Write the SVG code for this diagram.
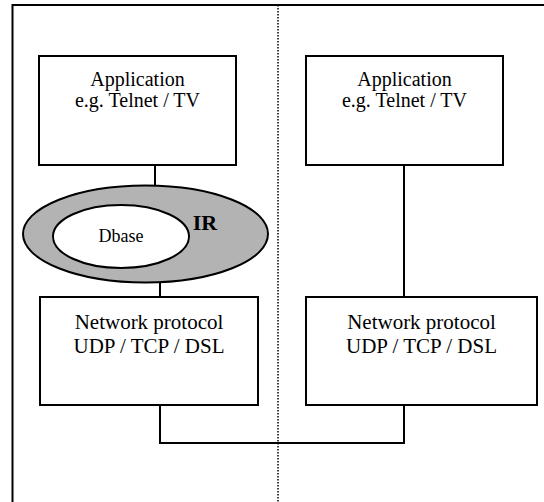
<svg xmlns="http://www.w3.org/2000/svg" width="544" height="502" viewBox="0 0 544 502">
<style>
.box{fill:#fff;stroke:#000;stroke-width:2}
.ln{fill:none;stroke:#000;stroke-width:2}
.t{font-family:"Liberation Serif","Times New Roman",serif;fill:#000;text-anchor:middle}
.big{font-size:20px}
.net{font-size:21px}
</style>
<rect width="544" height="502" fill="#fff"/>
<g id="frame">
<path class="ln" d="M12.5,502 V5 H544"/>
<line x1="278" y1="5" x2="278" y2="502" stroke="#000" stroke-width="1.5" stroke-dasharray="1.5,1.5"/>
</g>
<g id="connectors">
<line class="ln" x1="155" y1="165" x2="155" y2="186"/>
<line class="ln" x1="160" y1="282" x2="160" y2="297"/>
<line class="ln" x1="404" y1="165" x2="404" y2="297"/>
<path class="ln" d="M160,405 V443 H404 V405"/>
</g>
<g id="app-left">
<rect class="box" x="39" y="56" width="197" height="109"/>
<text class="t big" x="137.5" y="86">Application</text>
<text class="t big" x="137.5" y="107">e.g. Telnet / TV</text>
</g>
<g id="app-right">
<rect class="box" x="306" y="56" width="197" height="109"/>
<text class="t big" x="404.5" y="86">Application</text>
<text class="t big" x="404.5" y="107">e.g. Telnet / TV</text>
</g>
<g id="ir">
<ellipse cx="145.5" cy="234" rx="122.5" ry="48.5" fill="#b3b3b3" stroke="#000" stroke-width="2"/>
<text x="205" y="230" font-family="Liberation Serif,'Times New Roman',serif" font-size="22" font-weight="bold" text-anchor="middle">IR</text>
</g>
<g id="dbase">
<ellipse cx="121" cy="236.5" rx="68" ry="31.5" fill="#fff" stroke="#000" stroke-width="2"/>
<text class="t" x="121" y="242" font-size="18">Dbase</text>
</g>
<g id="net-left">
<rect class="box" x="40" y="297" width="218" height="108"/>
<text class="t net" x="149" y="329">Network protocol</text>
<text class="t net" x="149" y="353">UDP / TCP / DSL</text>
</g>
<g id="net-right">
<rect class="box" x="306" y="297" width="231" height="108"/>
<text class="t net" x="421.5" y="329">Network protocol</text>
<text class="t net" x="421.5" y="353">UDP / TCP / DSL</text>
</g>
</svg>
